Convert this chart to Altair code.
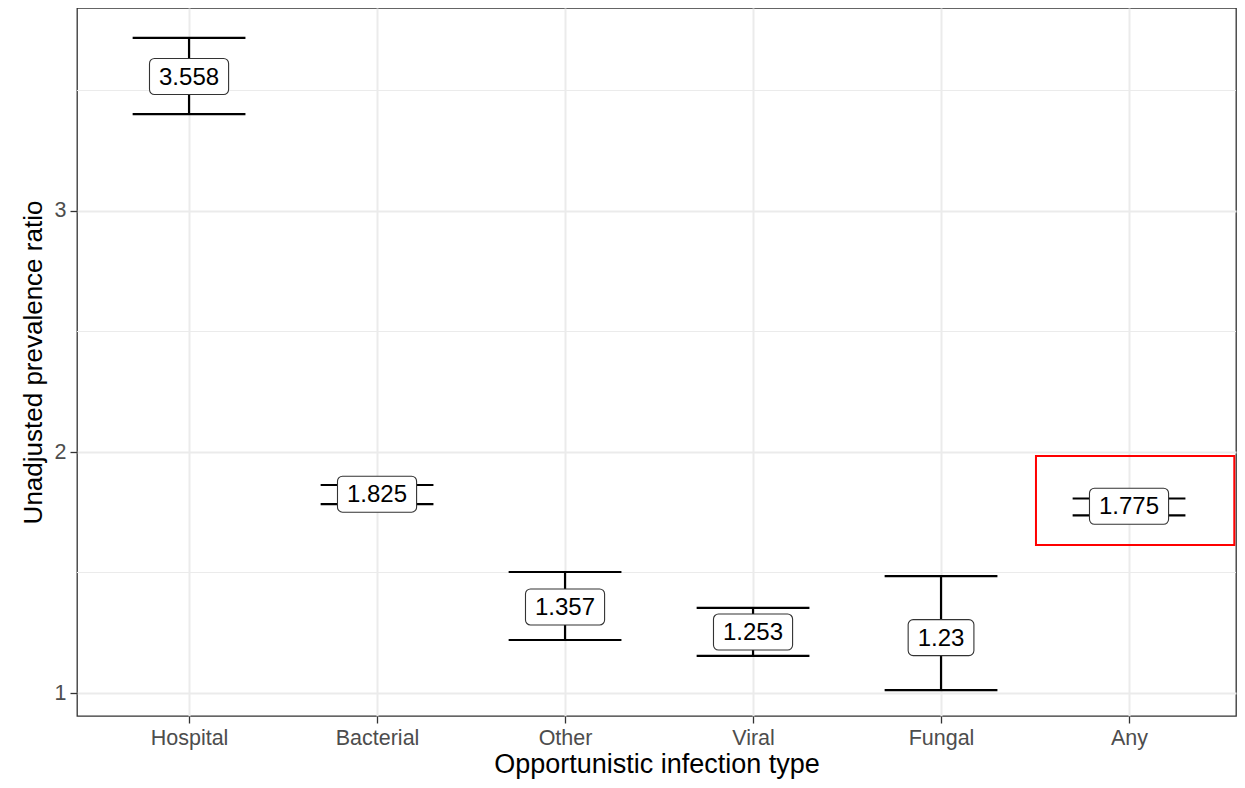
import altair as alt
import pandas as pd

categories = ["Hospital", "Bacterial", "Other", "Viral", "Fungal", "Any"]
estimates = [3.558, 1.825, 1.357, 1.253, 1.23, 1.775]
lower = [3.402, 1.784, 1.220, 1.154, 1.012, 1.737]
upper = [3.718, 1.863, 1.502, 1.353, 1.485, 1.807]
labels = ["3.558", "1.825", "1.357", "1.253", "1.23", "1.775"]

minor_y = [1.5, 2.5, 3.5]
highlight = {"x": 5.505, "x2": 6.56, "y": 1.614, "y2": 1.983}

W, H = 1159, 708
XDOM = [0.404, 6.569]
YDOM = [0.9046, 3.8423]
PX_X = W / (XDOM[1] - XDOM[0])
PX_Y = H / (YDOM[1] - YDOM[0])

df = pd.DataFrame({
    "idx": list(range(1, len(categories) + 1)),
    "cat": categories,
    "est": estimates,
    "lo": lower,
    "hi": upper,
    "lab": labels,
})

FONT = "Liberation Sans"
label_expr = "[" + ",".join("'%s'" % c for c in categories) + "][datum.value - 1]"

xscale = alt.Scale(domain=XDOM, nice=False, zero=False)
yscale = alt.Scale(domain=YDOM, nice=False, zero=False)

xaxis = alt.Axis(values=list(range(1, 7)), labelExpr=label_expr,
                 title="Opportunistic infection type", titleFontSize=27)
yaxis = alt.Axis(values=[1, 2, 3], format="d", title="Unadjusted prevalence ratio",
                 titleFontSize=26)

base = alt.Chart(df)

minor = alt.Chart(pd.DataFrame({"m": minor_y})).mark_rule(
    color="#ebebeb", strokeWidth=1
).encode(y=alt.Y("m:Q", scale=yscale, axis=yaxis))

stems = base.mark_rule(color="black", strokeWidth=2.2).encode(
    x=alt.X("idx:Q", scale=xscale, axis=xaxis),
    y=alt.Y("lo:Q", scale=yscale),
    y2="hi:Q",
)

caps_hi = base.transform_calculate(
    xa="datum.idx - 0.3", xb="datum.idx + 0.3"
).mark_rule(color="black", strokeWidth=2.2).encode(
    x=alt.X("xa:Q", scale=xscale), x2="xb:Q", y=alt.Y("hi:Q", scale=yscale)
)
caps_lo = base.transform_calculate(
    xa="datum.idx - 0.3", xb="datum.idx + 0.3"
).mark_rule(color="black", strokeWidth=2.2).encode(
    x=alt.X("xa:Q", scale=xscale), x2="xb:Q", y=alt.Y("lo:Q", scale=yscale)
)

# label boxes sized from the text length (pixel widths converted to data units)
boxes = base.transform_calculate(
    wpx="(length(datum.lab) - 1) * 13.35 + 6.7 + 19",
    bx1="datum.idx - datum.wpx / 2 / %f" % PX_X,
    bx2="datum.idx + datum.wpx / 2 / %f" % PX_X,
    by1="datum.est - 18 / %f" % PX_Y,
    by2="datum.est + 18 / %f" % PX_Y,
).mark_rect(fill="white", stroke="#333333", strokeWidth=1.1, cornerRadius=5).encode(
    x=alt.X("bx1:Q", scale=xscale), x2="bx2:Q",
    y=alt.Y("by1:Q", scale=yscale), y2="by2:Q",
)

texts = base.mark_text(font=FONT, fontSize=24, color="black", baseline="middle",
                       align="center", dy=1).encode(
    x=alt.X("idx:Q", scale=xscale),
    y=alt.Y("est:Q", scale=yscale),
    text="lab:N",
)

hl = alt.Chart(pd.DataFrame([highlight])).mark_rect(
    fill=None, fillOpacity=0, stroke="red", strokeWidth=2
).encode(
    x=alt.X("x:Q", scale=xscale), x2="x2:Q",
    y=alt.Y("y:Q", scale=yscale), y2="y2:Q",
)

chart = alt.layer(minor, stems, caps_hi, caps_lo, boxes, texts, hl).properties(
    width=W, height=H,
    autosize=alt.AutoSizeParams(type="none"),
    padding={"left": 69, "top": 0, "right": 1, "bottom": 64},
    background="white",
).configure_view(
    stroke="#333333", strokeWidth=1.3
).configure_axis(
    domain=False,
    grid=True, gridColor="#ebebeb", gridWidth=2,
    ticks=True, tickColor="#333333", tickWidth=1.3, tickSize=7,
    labelFont=FONT, labelFontSize=21.5, labelColor="#4d4d4d",
    titleFont=FONT, titleColor="black", titleFontWeight="normal",
).configure_axisX(
    labelPadding=4, titlePadding=3
).configure_axisY(
    labelPadding=4, titlePadding=8
)

chart.save("out.html", embed_options={"renderer": "svg", "actions": False})
